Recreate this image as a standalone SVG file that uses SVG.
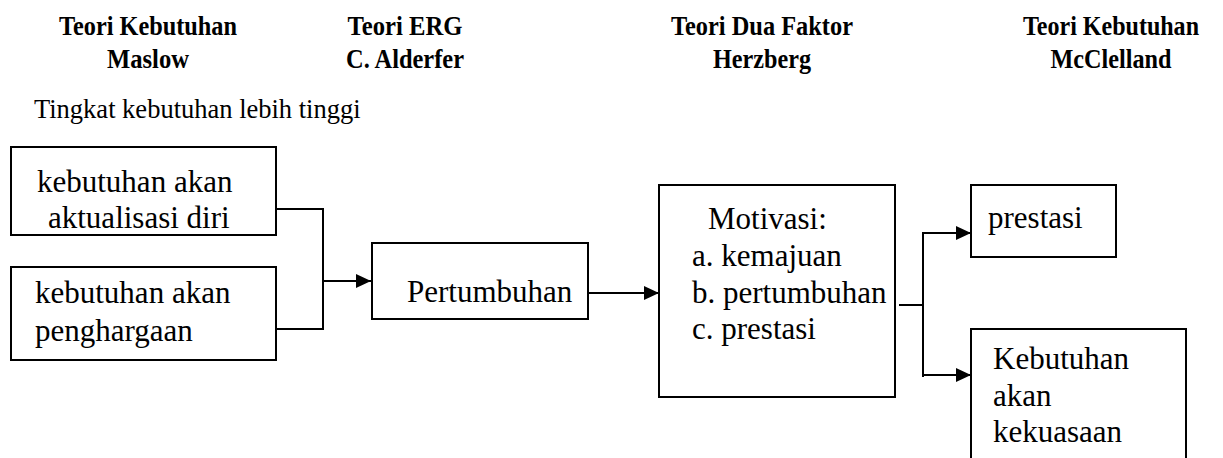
<svg xmlns="http://www.w3.org/2000/svg" width="1223" height="458" viewBox="0 0 1223 458">
<defs>
<marker id="ah" markerWidth="15" markerHeight="14" refX="15" refY="7" orient="auto" markerUnits="userSpaceOnUse">
<path d="M0,0 L15,7 L0,14 Z" fill="#000"/>
</marker>
<style>
.hd{font-family:"Liberation Serif","Times New Roman",serif;font-weight:bold;font-size:27px;fill:#000;text-anchor:middle}
.t{font-family:"Liberation Serif","Times New Roman",serif;font-size:31px;fill:#000}
.sub{font-family:"Liberation Serif","Times New Roman",serif;font-size:26.5px;fill:#000}
.box{fill:#fff;stroke:#000;stroke-width:2}
.ln{fill:none;stroke:#000;stroke-width:2}
</style>
</defs>
<rect width="1223" height="458" fill="#fff"/>
<g id="headers">
<text class="hd" x="148" y="35" textLength="178" lengthAdjust="spacingAndGlyphs">Teori Kebutuhan</text>
<text class="hd" x="148" y="68" textLength="82" lengthAdjust="spacingAndGlyphs">Maslow</text>
<text class="hd" x="405" y="35" textLength="115" lengthAdjust="spacingAndGlyphs">Teori ERG</text>
<text class="hd" x="405" y="68" textLength="118" lengthAdjust="spacingAndGlyphs">C. Alderfer</text>
<text class="hd" x="762" y="35" textLength="182" lengthAdjust="spacingAndGlyphs">Teori Dua Faktor</text>
<text class="hd" x="762" y="68" textLength="98" lengthAdjust="spacingAndGlyphs">Herzberg</text>
<text class="hd" x="1111" y="35" textLength="176" lengthAdjust="spacingAndGlyphs">Teori Kebutuhan</text>
<text class="hd" x="1111" y="68" textLength="121" lengthAdjust="spacingAndGlyphs">McClelland</text>
<text class="sub" x="34" y="118">Tingkat kebutuhan lebih tinggi</text>
</g>
<g id="connectors">
<polyline class="ln" points="276,209 323,209 323,329 276,329"/>
<line class="ln" x1="323" y1="281" x2="371" y2="281" marker-end="url(#ah)"/>
<line class="ln" x1="588" y1="293" x2="659" y2="293" marker-end="url(#ah)"/>
<line class="ln" x1="899" y1="305" x2="923" y2="305"/>
<line class="ln" x1="923" y1="232" x2="923" y2="377"/>
<line class="ln" x1="922" y1="233" x2="971" y2="233" marker-end="url(#ah)"/>
<line class="ln" x1="922" y1="375" x2="971" y2="375" marker-end="url(#ah)"/>
</g>
<g id="n-aktualisasi">
<rect class="box" x="11" y="147" width="265" height="88"/>
<text class="t" x="37" y="192">kebutuhan akan</text>
<text class="t" x="48" y="228">aktualisasi diri</text>
</g>
<g id="n-penghargaan">
<rect class="box" x="11" y="267" width="265" height="93"/>
<text class="t" x="35" y="303">kebutuhan akan</text>
<text class="t" x="35" y="341">penghargaan</text>
</g>
<g id="n-pertumbuhan">
<rect class="box" x="372" y="243" width="216" height="76"/>
<text class="t" x="407" y="302">Pertumbuhan</text>
</g>
<g id="n-motivasi">
<rect class="box" x="659" y="185" width="236" height="212"/>
<text class="t" x="708" y="229">Motivasi:</text>
<text class="t" x="692" y="266">a. kemajuan</text>
<text class="t" x="692" y="303">b. pertumbuhan</text>
<text class="t" x="692" y="339">c. prestasi</text>
</g>
<g id="n-prestasi">
<rect class="box" x="971" y="185" width="145" height="72" stroke-width="2.5"/>
<text class="t" x="988" y="228">prestasi</text>
</g>
<g id="n-kekuasaan">
<path class="ln" d="M971,470 L971,329 L1186,329 L1186,470"/>
<text class="t" x="993" y="369">Kebutuhan</text>
<text class="t" x="993" y="406">akan</text>
<text class="t" x="993" y="442">kekuasaan</text>
</g>
</svg>
